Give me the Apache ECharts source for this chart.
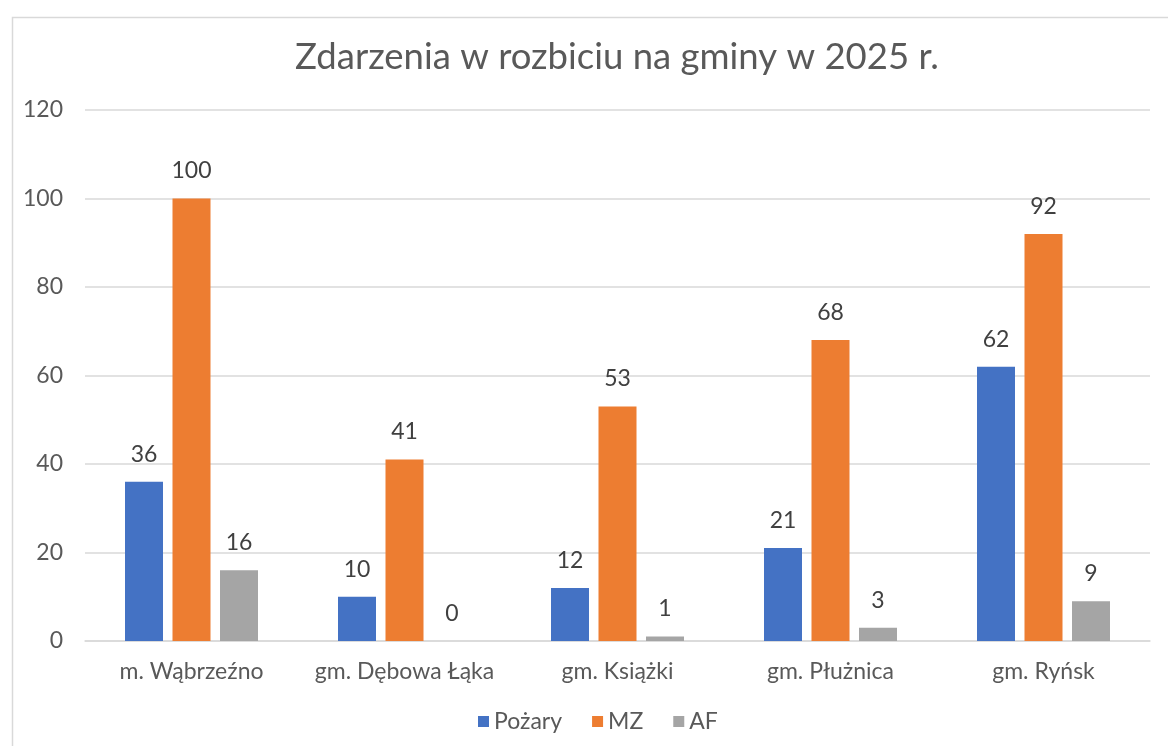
<!DOCTYPE html>
<html>
<head>
<meta charset="utf-8">
<script src="https://cdn.jsdelivr.net/npm/echarts@6/dist/echarts.min.js"></script>
<style>
  html, body { margin: 0; padding: 0; background: #ffffff; }
  #chart { width: 1168px; height: 746px; }
</style>
</head>
<body>
<div id="chart"></div>
<script>
const categories = ["m. Wąbrzeźno", "gm. Dębowa Łąka", "gm. Książki", "gm. Płużnica", "gm. Ryńsk"];
const pozary = [36, 10, 12, 21, 62];
const mz = [100, 41, 53, 68, 92];
const af = [16, 0, 1, 3, 9];
const yTicks = [0, 20, 40, 60, 80, 100, 120];

const font = "Lato, 'Noto Sans', sans-serif";

const labelStyle = {
  show: true,
  position: "top",
  distance: 16,
  color: "#404040",
  fontFamily: font,
  fontSize: 23,
};

function bar(name, data, color) {
  return {
    name: name,
    type: "bar",
    data: data,
    barWidth: 38,
    barGap: "25%",
    itemStyle: { color: color },
    label: labelStyle,
  };
}

const chart = echarts.init(document.getElementById("chart"));

chart.setOption({
  backgroundColor: "#ffffff",
  animation: false,
  title: {
    text: "Zdarzenia w rozbiciu na gminy w 2025 r.",
    left: 612,
    top: 34,
    textAlign: "center",
    textStyle: {
      color: "#595959",
      fontFamily: font,
      fontWeight: "normal",
      fontSize: 36.5,
    },
  },
  graphic: [
    {
      type: "rect",
      left: 10,
      top: 15,
      shape: { width: 1300, height: 900 },
      style: { fill: "none", stroke: "#d9d9d9", lineWidth: 1.5 },
      silent: true,
      z: -1,
    },
  ],
  legend: {
    data: ["Pożary", "MZ", "AF"],
    left: 473,
    top: 705,
    icon: "rect",
    itemWidth: 11,
    itemHeight: 11,
    itemGap: 30,
    textStyle: { color: "#595959", fontFamily: font, fontSize: 23 },
  },
  grid: {
    left: 85,
    right: 18,
    top: 110,
    bottom: 105,
    containLabel: false,
  },
  xAxis: {
    type: "category",
    data: categories,
    axisLine: { lineStyle: { color: "#d9d9d9", width: 1.5 } },
    axisTick: { show: false },
    axisLabel: {
      interval: 0,
      color: "#595959",
      fontFamily: font,
      fontSize: 23,
      margin: 19,
    },
  },
  yAxis: {
    type: "value",
    min: yTicks[0],
    max: yTicks[yTicks.length - 1],
    interval: 20,
    axisLine: { show: false },
    axisTick: { show: false },
    axisLabel: {
      color: "#595959",
      fontFamily: font,
      fontSize: 23,
      margin: 22,
    },
    splitLine: { lineStyle: { color: "#d9d9d9", width: 1.5 } },
  },
  series: [
    bar("Pożary", pozary, "#4472C4"),
    bar("MZ", mz, "#ED7D31"),
    bar("AF", af, "#A5A5A5"),
  ],
});
</script>
</body>
</html>
